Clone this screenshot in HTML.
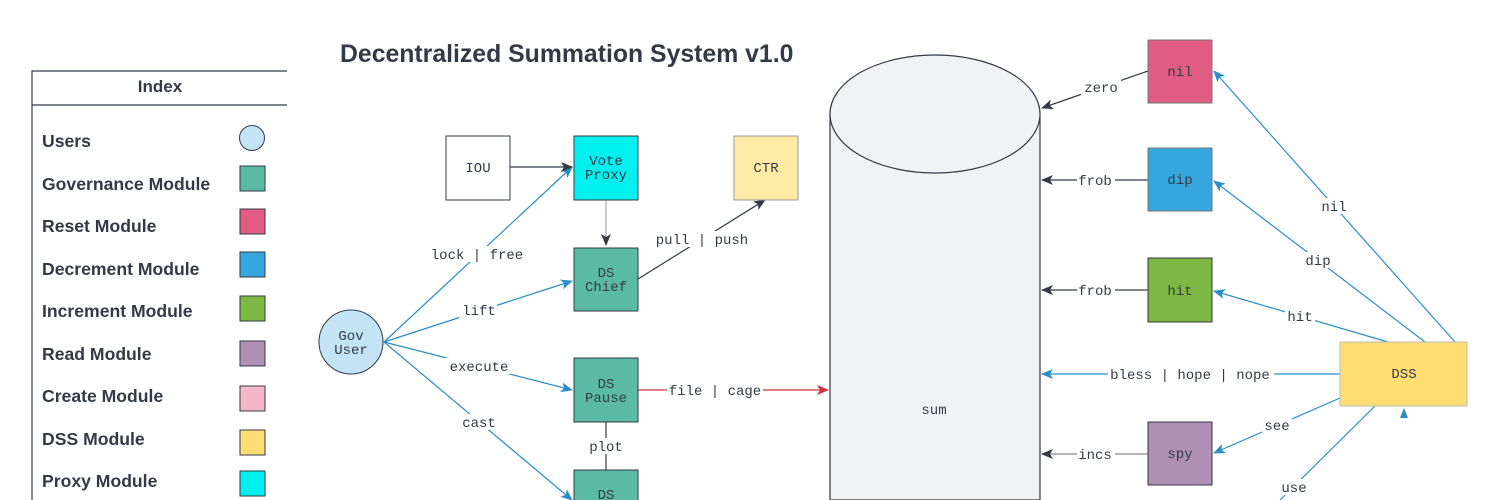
<!DOCTYPE html>
<html><head><meta charset="utf-8"><style>
html,body{margin:0;padding:0;background:#fff;width:1500px;height:500px;overflow:hidden}
svg{display:block}
.l{font-family:"Liberation Mono",monospace;font-size:14px;fill:#333a45}
.s{font-family:"Liberation Sans",sans-serif;font-weight:bold;fill:#333a45}
</style></head><body>
<svg width="1500" height="500" viewBox="0 0 1500 500" xmlns="http://www.w3.org/2000/svg">
<defs>
<marker id="ab" markerWidth="12" markerHeight="10" refX="11" refY="5" orient="auto" markerUnits="userSpaceOnUse"><path d="M0,0 L12,5 L0,10 L3,5z" fill="#2a8dc5"/></marker>
<marker id="ad" markerWidth="12" markerHeight="10" refX="11" refY="5" orient="auto" markerUnits="userSpaceOnUse"><path d="M0,0 L12,5 L0,10 L3,5z" fill="#333a45"/></marker>
<marker id="ar" markerWidth="12" markerHeight="10" refX="11" refY="5" orient="auto" markerUnits="userSpaceOnUse"><path d="M0,0 L12,5 L0,10 L3,5z" fill="#d0303c"/></marker>
</defs>
<path d="M32,500 L32,71 L287,71 M32,105 L287,105" stroke="#333a45" stroke-width="1.2" fill="none"/>
<text x="160" y="92" text-anchor="middle" class="s" font-size="17">Index</text>
<g class="s" font-size="17.6">
<text x="42" y="147">Users</text>
<text x="42" y="190">Governance Module</text>
<text x="42" y="232">Reset Module</text>
<text x="42" y="275">Decrement Module</text>
<text x="42" y="317">Increment Module</text>
<text x="42" y="360">Read Module</text>
<text x="42" y="402">Create Module</text>
<text x="42" y="445">DSS Module</text>
<text x="42" y="487">Proxy Module</text>
</g>
<g stroke="#333a45" stroke-width="1">
<circle cx="252" cy="138" r="12.5" fill="#c4e3f5"/>
<rect x="240" y="166" width="25" height="25" fill="#5bbaa5"/>
<rect x="240" y="209" width="25" height="25" fill="#e05c84"/>
<rect x="240" y="252" width="25" height="25" fill="#36a7de"/>
<rect x="240" y="296" width="25" height="25" fill="#7db844"/>
<rect x="240" y="341" width="25" height="25" fill="#b08fb5"/>
<rect x="240" y="386" width="25" height="25" fill="#f4b6c8"/>
<rect x="240" y="430" width="25" height="25" fill="#fedd72"/>
<rect x="240" y="471" width="25" height="25" fill="#00f0f0"/>
</g>
<text x="340" y="62" class="s" font-size="24.8">Decentralized Summation System v1.0</text>
<path d="M830,114 L830,500 L1040,500 L1040,114" fill="#f1f2f4" stroke="#333a45" stroke-width="1.2"/>
<ellipse cx="935" cy="114" rx="105" ry="59" fill="#f1f2f4" stroke="#333a45" stroke-width="1.2"/>
<text x="934" y="414" text-anchor="middle" class="l">sum</text>
<g stroke="#2a8dc5" stroke-width="1.2" fill="none" marker-end="url(#ab)">
<line x1="384" y1="342" x2="572" y2="167"/>
<line x1="384" y1="342" x2="572" y2="281"/>
<line x1="384" y1="342" x2="572" y2="390"/>
<line x1="384" y1="342" x2="572" y2="500"/>
</g>
<line x1="510" y1="167" x2="572" y2="167" stroke="#333a45" stroke-width="1.2" marker-end="url(#ad)"/>
<line x1="606" y1="200" x2="606" y2="245" stroke="#aaa" stroke-width="1.2" marker-end="url(#ad)"/>
<line x1="638" y1="279" x2="765" y2="200" stroke="#333a45" stroke-width="1.2" marker-end="url(#ad)"/>
<line x1="638" y1="390" x2="828" y2="390" stroke="#d0303c" stroke-width="1.2" marker-end="url(#ar)"/>
<line x1="606" y1="422" x2="606" y2="470" stroke="#333a45" stroke-width="1.2"/>
<g stroke="#333a45" stroke-width="1.2" marker-end="url(#ad)">
<line x1="1148" y1="71" x2="1042" y2="108"/>
<line x1="1148" y1="180" x2="1042" y2="180"/>
<line x1="1148" y1="290" x2="1042" y2="290"/>
<line x1="1148" y1="454" x2="1042" y2="454" stroke="#888"/>
</g>
<g stroke="#2a8dc5" stroke-width="1.2" marker-end="url(#ab)">
<line x1="1340" y1="374" x2="1042" y2="374"/>
<line x1="1455" y1="342" x2="1214" y2="71"/>
<line x1="1425" y1="342" x2="1214" y2="181"/>
<line x1="1388" y1="342" x2="1214" y2="291"/>
<line x1="1340" y1="398" x2="1214" y2="453"/>
</g>
<line x1="1375" y1="406" x2="1280" y2="500" stroke="#2a8dc5" stroke-width="1.2"/>
<path d="M1400,418 L1404,408 L1408,418z" fill="#2a8dc5"/>
<g class="l" text-anchor="middle">
<g fill="#fff" stroke="none">
<rect x="431" y="246" width="94" height="16"/><rect x="459" y="302" width="38" height="16"/>
<rect x="445" y="358" width="66" height="16"/><rect x="460" y="414" width="40" height="16"/>
<rect x="652" y="231" width="100" height="16"/><rect x="667" y="382" width="96" height="16"/>
<rect x="588" y="438" width="36" height="16"/>
<rect x="1081" y="79" width="40" height="16"/><rect x="1077" y="172" width="38" height="16"/>
<rect x="1077" y="282" width="38" height="16"/><rect x="1108" y="366" width="166" height="16"/>
<rect x="1077" y="446" width="38" height="16"/><rect x="1320" y="198" width="28" height="16"/>
<rect x="1303" y="252" width="30" height="16"/><rect x="1285" y="308" width="30" height="16"/>
<rect x="1262" y="417" width="30" height="16"/><rect x="1279" y="479" width="30" height="16"/>
</g>
<text x="477" y="259">lock | free</text><text x="479" y="315">lift</text>
<text x="479" y="371">execute</text><text x="479" y="427">cast</text>
<text x="702" y="244">pull | push</text><text x="715" y="395">file | cage</text>
<text x="606" y="451">plot</text>
<text x="1101" y="92">zero</text><text x="1095" y="185">frob</text>
<text x="1095" y="295">frob</text><text x="1190" y="379">bless | hope | nope</text>
<text x="1095" y="459">incs</text><text x="1334" y="211">nil</text>
<text x="1318" y="265">dip</text><text x="1300" y="321">hit</text>
<text x="1277" y="430">see</text><text x="1294" y="492">use</text>
</g>
<g stroke="#333a45" stroke-width="1">
<rect x="446" y="136" width="64" height="64" fill="#fff"/>
<rect x="574" y="136" width="64" height="64" fill="#00f0f0"/>
<rect x="734" y="136" width="64" height="64" fill="#ffeaa6" stroke="#999"/>
<rect x="574" y="248" width="64" height="63" fill="#5bbaa5"/>
<rect x="574" y="358" width="64" height="64" fill="#5bbaa5"/>
<rect x="574" y="470" width="64" height="40" fill="#5bbaa5"/>
<circle cx="351" cy="342" r="32" fill="#c4e3f5"/>
<rect x="1148" y="40" width="64" height="63" fill="#e05c84" stroke="#777"/>
<rect x="1148" y="148" width="64" height="63" fill="#36a7de" stroke="#777"/>
<rect x="1148" y="258" width="64" height="64" fill="#7db844"/>
<rect x="1148" y="422" width="64" height="63" fill="#b08fb5"/>
<rect x="1340" y="342" width="127" height="64" fill="#fedd72" stroke="#bbb"/>
</g>
<g class="l" text-anchor="middle">
<text x="478" y="172">IOU</text>
<text x="606" y="165">Vote</text><text x="606" y="179">Proxy</text>
<text x="766" y="172">CTR</text>
<text x="606" y="277">DS</text><text x="606" y="291">Chief</text>
<text x="606" y="388">DS</text><text x="606" y="402">Pause</text>
<text x="606" y="499">DS</text>
<text x="351" y="340">Gov</text><text x="351" y="354">User</text>
<text x="1180" y="76">nil</text><text x="1180" y="184">dip</text>
<text x="1180" y="295">hit</text><text x="1180" y="458">spy</text>
<text x="1404" y="378">DSS</text>
</g>
</svg>
</body></html>
